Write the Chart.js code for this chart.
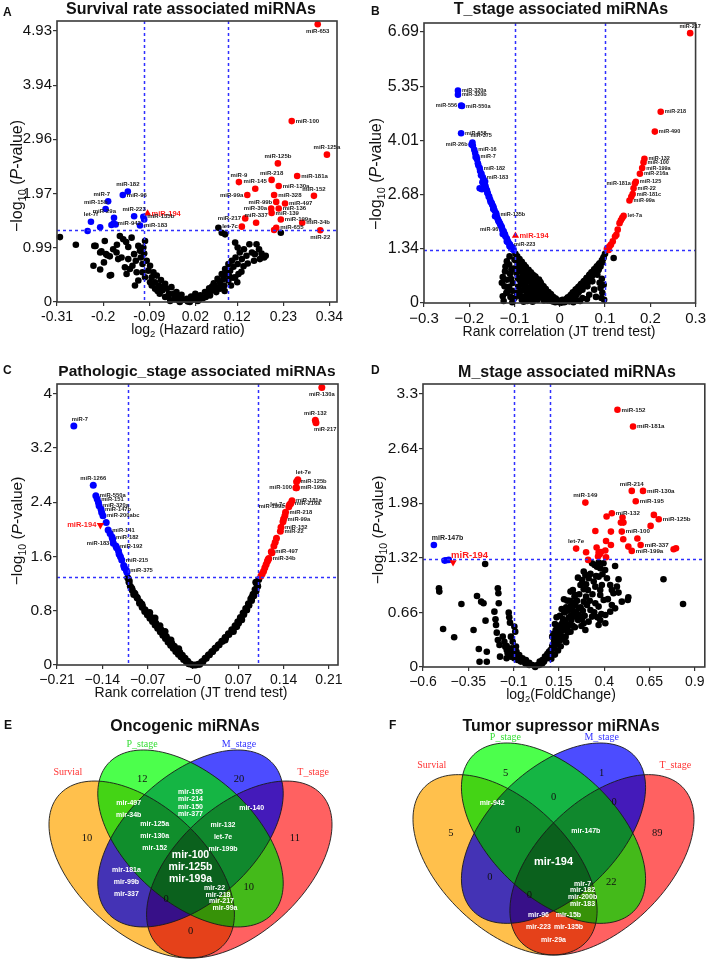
<!DOCTYPE html>
<html>
<head>
<meta charset="utf-8">
<script src="https://cdn.jsdelivr.net/npm/chart.js@4.4.1/dist/chart.umd.min.js"></script>
<style>
  body { margin: 0; background: #fff; }
  #wrap { position: relative; width: 709px; height: 962px; overflow: hidden; }
  canvas { position: absolute; }
  .tag { position: absolute; font: bold 12px "Liberation Sans", Arial, sans-serif; color: #111; }
</style>
</head>
<body>
<div id="wrap">
  <canvas id="cA" width="354" height="340" style="left:0;top:0"></canvas>
  <canvas id="cB" width="355" height="340" style="left:354px;top:0"></canvas>
  <canvas id="cC" width="354" height="360" style="left:0;top:345px"></canvas>
  <canvas id="cD" width="355" height="360" style="left:354px;top:345px"></canvas>
  <canvas id="cE" width="354" height="312" style="left:0;top:650px"></canvas>
  <canvas id="cF" width="355" height="312" style="left:354px;top:650px"></canvas>
  <div class="tag" style="left:3px;top:5px">A</div>
  <div class="tag" style="left:371px;top:4px">B</div>
  <div class="tag" style="left:3px;top:363px">C</div>
  <div class="tag" style="left:371px;top:363px">D</div>
  <div class="tag" style="left:4px;top:718px">E</div>
  <div class="tag" style="left:389px;top:718px">F</div>
</div>
<script>
const FONT = '"Liberation Sans", Arial, sans-serif';
const SERIF = '"Liberation Serif", "Times New Roman", serif';
Chart.defaults.font.family = FONT;

// ---------- A: survival rate ----------
const A_X_TICKS = ['-0.31', '-0.2', '-0.09', '0.02', '0.12', '0.23', '0.34'];
const A_Y_TICKS = ['0', '0.99', '1.97', '2.96', '3.94', '4.93'];
const A_RED_NAMES = ['miR-653', 'miR-100', 'miR-125a', 'miR-125b', 'miR-218', 'miR-181a', 'miR-9', 'miR-145',
  'miR-130a', 'miR-99a', 'miR-328', 'miR-152', 'miR-99b', 'miR-497', 'miR-30a', 'miR-136', 'miR-139', 'miR-217',
  'miR-337', 'miR-199a', 'miR-34b', 'let-7c', 'miR-655', '', 'miR-22'];
const A_RED = [[0.312, 5.05], [0.250, 3.29], [0.334, 2.68], [0.217, 2.52], [0.202, 2.22], [0.263, 2.29], [0.124, 2.18],
  [0.163, 2.06], [0.219, 2.11], [0.144, 1.945], [0.208, 1.945], [0.303, 1.93], [0.213, 1.82], [0.234, 1.79],
  [0.201, 1.70], [0.219, 1.70], [0.202, 1.62], [0.139, 1.52], [0.165, 1.44], [0.224, 1.50], [0.275, 1.44],
  [0.131, 1.37], [0.213, 1.35], [0.208, 1.31], [0.318, 1.305]];
const A_BLUE_NAMES = ['miR-182', 'miR-96', 'miR-7', 'miR-15b', 'miR-29a', 'miR-223', 'miR-942', '', '', 'let-7f',
  '', '', 'miR-135b', '', 'miR-183'];
const A_BLUE = [[-0.141, 2.01], [-0.153, 1.945], [-0.188, 1.83], [-0.194, 1.69], [-0.174, 1.53], [-0.126, 1.56],
  [-0.175, 1.43], [-0.180, 1.40], [-0.170, 1.41], [-0.229, 1.46], [-0.237, 1.29], [-0.207, 1.36], [-0.104, 1.55],
  [-0.102, 1.50], [-0.112, 1.39]];
const A_MIR194 = [[-0.094, 1.61]];
const A_BLACK = [[-0.303, 1.18], [-0.265, 1.04], [-0.218, 1.02], [-0.204, 0.92], [-0.196, 1.11], [-0.190, 0.85],
  [-0.181, 0.49], [-0.176, 0.96], [-0.168, 0.90], [-0.167, 1.04], [-0.164, 0.78], [-0.160, 1.20], [-0.156, 0.81],
  [-0.152, 1.14], [-0.148, 0.63], [-0.145, 1.09], [-0.144, 0.51], [-0.140, 1.00], [-0.140, 0.78], [-0.136, 0.60],
  [-0.132, 1.17], [-0.130, 0.66], [-0.126, 0.87], [-0.124, 0.30], [-0.122, 0.75], [-0.120, 0.54], [-0.116, 1.02],
  [-0.116, 0.39], [-0.112, 0.93], [-0.110, 0.81], [-0.106, 0.69], [-0.106, 0.54], [-0.104, 0.99], [-0.102, 0.88],
  [-0.100, 1.11], [-0.100, 0.45], [-0.096, 0.75], [-0.092, 0.57], [-0.088, 0.66], [-0.088, 0.36], [-0.084, 0.45],
  [-0.084, 0.30], [-0.080, 0.54], [-0.076, 0.36], [-0.076, 0.24], [-0.072, 0.48], [-0.070, 0.20], [-0.068, 0.30],
  [-0.065, 0.15], [-0.062, 0.40], [-0.060, 0.28], [-0.059, 0.21], [-0.052, 0.33], [-0.052, 0.09], [-0.048, 0.24],
  [-0.045, 0.10], [-0.043, 0.15], [-0.040, 0.02], [-0.037, 0.27], [-0.032, 0.15], [-0.030, 0.08], [-0.029, 0.05],
  [-0.025, 0.18], [-0.020, 0.03], [-0.019, 0.09], [-0.017, 0.0], [-0.013, 0.13], [-0.006, 0.04], [0.0, 0.06],
  [0.002, 0.01], [0.007, 0.0], [0.010, 0.10], [0.013, 0.04], [0.019, 0.07], [0.020, 0.15], [0.026, 0.02],
  [0.030, 0.05], [0.032, 0.12], [0.038, 0.07], [0.043, 0.18], [0.045, 0.09], [0.048, 0.15], [0.053, 0.25],
  [0.055, 0.12], [0.059, 0.21], [0.060, 0.28], [0.064, 0.34], [0.069, 0.27], [0.070, 0.18], [0.073, 0.42],
  [0.079, 0.36], [0.079, 0.24], [0.080, 0.30], [0.083, 0.51], [0.087, 0.42], [0.089, 0.30], [0.090, 0.20],
  [0.091, 0.60], [0.095, 0.51], [0.099, 0.69], [0.099, 0.39], [0.100, 0.48], [0.103, 0.57], [0.105, 0.30],
  [0.107, 0.75], [0.110, 0.44], [0.111, 0.64], [0.115, 0.45], [0.116, 0.81], [0.120, 0.36], [0.121, 0.69],
  [0.123, 0.51], [0.126, 0.90], [0.130, 0.55], [0.131, 0.78], [0.135, 0.65], [0.136, 0.96], [0.142, 0.84],
  [0.145, 0.70], [0.149, 1.05], [0.155, 0.90], [0.160, 0.75], [0.115, 1.08], [0.121, 0.99], [0.091, 1.23],
  [0.075, 1.35], [0.083, 1.26], [0.162, 0.87], [0.166, 1.05], [0.172, 0.96], [0.174, 0.78], [0.178, 0.88],
  [0.184, 0.81], [0.188, 0.84], [0.224, 1.26], [-0.221, 1.02], [-0.207, 0.90], [-0.193, 0.87], [-0.184, 0.83],
  [-0.223, 0.66], [-0.207, 0.59], [-0.198, 0.72], [-0.184, 0.48]];

// ---------- B: T stage ----------
const B_X_TICKS = ['−0.3', '−0.2', '−0.1', '0', '0.1', '0.2', '0.3'];
const B_Y_TICKS = ['0', '1.34', '2.68', '4.01', '5.35', '6.69'];
const B_RED_NAMES = ['miR-217', 'miR-218', 'miR-490', 'miR-132', 'miR-100', 'miR-199a', 'miR-216a', 'miR-125',
  'miR-181a', 'miR-22', 'miR-181c', '', 'miR-99a', 'let-7a'];
const B_RED = [[0.288, 6.66], [0.223, 4.72], [0.210, 4.23], [0.187, 3.56], [0.185, 3.47], [0.182, 3.33],
  [0.177, 3.19], [0.168, 2.99], [0.166, 2.95], [0.163, 2.83], [0.161, 2.69], [0.158, 2.62], [0.154, 2.53],
  [0.141, 2.15], [0.138, 2.10], [0.135, 2.04], [0.132, 1.97], [0.128, 1.81], [0.125, 1.68], [0.122, 1.64],
  [0.117, 1.52], [0.113, 1.44], [0.110, 1.40], [0.106, 1.36], [0.104, 1.33], [0.108, 1.31]];
const B_BLUE_NAMES = ['miR-320a', 'miR-320b', 'miR-556', 'miR-550a', 'miR-658', 'miR-375', 'miR-26b', '', 'miR-16',
  '', 'miR-7', '', '', 'miR-182', '', '', 'miR-183', '', '', '', '', '', '', '', '', '', '', '', '', '', '', '', '',
  '', 'miR-135b', '', '', '', '', '', '', 'miR-96', '', '', '', '', '', '', '', '', 'miR-223'];
const B_BLUE = [[-0.225, 5.24], [-0.225, 5.14], [-0.218, 4.87], [-0.216, 4.86], [-0.218, 4.19], [-0.193, 3.96],
  [-0.195, 3.91], [-0.192, 3.88], [-0.189, 3.78], [-0.187, 3.70], [-0.184, 3.61], [-0.183, 3.55], [-0.181, 3.45],
  [-0.177, 3.33], [-0.176, 3.26], [-0.173, 3.19], [-0.170, 3.10], [-0.168, 3.04], [-0.165, 3.00], [-0.166, 2.95],
  [-0.164, 2.88], [-0.177, 2.83], [-0.172, 2.81], [-0.161, 2.78], [-0.159, 2.70], [-0.157, 2.62], [-0.156, 2.63],
  [-0.154, 2.55], [-0.151, 2.48], [-0.149, 2.42], [-0.147, 2.32], [-0.146, 2.34], [-0.144, 2.28], [-0.143, 2.14],
  [-0.140, 2.18], [-0.139, 2.12], [-0.137, 2.07], [-0.136, 2.04], [-0.135, 2.01], [-0.132, 1.96], [-0.129, 1.89],
  [-0.127, 1.81], [-0.126, 1.70], [-0.124, 1.77], [-0.122, 1.71], [-0.120, 1.64], [-0.117, 1.59], [-0.117, 1.52],
  [-0.115, 1.53], [-0.113, 1.48], [-0.110, 1.44], [-0.111, 1.40], [-0.108, 1.37], [-0.105, 1.33], [-0.102, 1.31],
  [-0.186, 3.60], [-0.180, 3.40], [-0.174, 3.15], [-0.168, 2.92], [-0.160, 2.72], [-0.153, 2.50], [-0.147, 2.38],
  [-0.141, 2.22], [-0.134, 2.00], [-0.128, 1.86], [-0.121, 1.68], [-0.114, 1.50], [-0.106, 1.38], [-0.104, 1.34],
  [-0.171, 2.98], [-0.163, 2.82], [-0.150, 2.45], [-0.131, 1.92]];
const B_MIR194 = [[-0.098, 1.66]];
const B_BLACK = [[-0.098, 1.216], [-0.094, 1.150], [-0.089, 1.085], [-0.084, 1.019], [-0.079, 0.945], [-0.075, 0.887],
  [-0.069, 0.822], [-0.064, 0.756], [-0.058, 0.682], [-0.053, 0.616], [-0.047, 0.551], [-0.042, 0.485],
  [-0.036, 0.411], [-0.031, 0.345], [-0.025, 0.271], [-0.019, 0.197], [-0.013, 0.131], [-0.007, 0.066],
  [-0.001, 0.016], [0.006, 0.033], [0.012, 0.082], [0.018, 0.140], [0.024, 0.197], [0.029, 0.263], [0.035, 0.329],
  [0.041, 0.394], [0.047, 0.468], [0.053, 0.534], [0.059, 0.608], [0.065, 0.682], [0.070, 0.756], [0.076, 0.830],
  [0.082, 0.904], [0.088, 0.978], [0.093, 1.052], [0.097, 1.134], [0.100, 1.216], [-0.111, 1.150], [-0.117, 1.027],
  [-0.126, 0.641], [-0.117, 0.575], [-0.122, 0.411], [-0.126, 0.164], [-0.115, 0.288], [-0.107, 0.822],
  [-0.104, 0.493], [-0.096, 0.740], [-0.089, 0.575], [-0.082, 0.698], [-0.075, 0.534], [-0.078, 0.370],
  [-0.067, 0.329], [-0.060, 0.452], [-0.053, 0.247], [-0.045, 0.329], [-0.038, 0.164], [-0.031, 0.205],
  [-0.023, 0.082], [-0.089, 0.247], [-0.100, 0.123], [-0.075, 0.164], [-0.064, 0.123], [-0.049, 0.082],
  [-0.016, 0.041], [-0.089, 0.904], [-0.082, 0.822], [-0.071, 0.657], [-0.056, 0.575], [-0.042, 0.411],
  [-0.027, 0.247], [-0.100, 1.068], [-0.093, 0.945], [0.006, 0.082], [0.017, 0.123], [0.028, 0.181], [0.039, 0.247],
  [0.050, 0.329], [0.061, 0.411], [0.072, 0.534], [0.083, 0.698], [0.021, 0.041], [0.035, 0.082], [0.050, 0.123],
  [0.065, 0.205], [0.090, 0.370], [0.092, 0.123], [0.119, 1.109], [0.086, 0.822], [0.076, 0.329], [-0.095, 0.247],
  [-0.084, 0.082], [-0.010, 0.02], [0.0, 0.04], [0.010, 0.02], [-0.035, 0.06], [-0.060, 0.03], [0.045, 0.05],
  [0.030, 0.02], [-0.070, 0.20], [-0.050, 0.45], [-0.085, 0.45], [-0.110, 0.72], [-0.060, 0.60], [-0.120, 0.90],
  [-0.112, 0.40], [-0.105, 0.02], [-0.080, 0.03],
  [-0.097, 1.05], [-0.095, 0.85], [-0.093, 0.62], [-0.092, 0.40], [-0.091, 0.18], [-0.090, 1.00], [-0.087, 0.78],
  [-0.086, 0.52], [-0.085, 0.30], [-0.083, 0.95], [-0.081, 0.60], [-0.080, 0.15], [-0.078, 0.85], [-0.077, 0.48],
  [-0.074, 0.72], [-0.073, 0.26], [-0.072, 0.05], [-0.070, 0.80], [-0.069, 0.55], [-0.068, 0.38], [-0.066, 0.68],
  [-0.065, 0.20], [-0.063, 0.47], [-0.062, 0.72], [-0.061, 0.30], [-0.058, 0.58], [-0.057, 0.12], [-0.056, 0.40],
  [-0.054, 0.65], [-0.052, 0.50], [-0.050, 0.22], [-0.049, 0.35], [-0.047, 0.45], [-0.046, 0.58], [-0.044, 0.15],
  [-0.043, 0.52], [-0.041, 0.30], [-0.040, 0.44], [-0.038, 0.40], [-0.036, 0.25], [-0.034, 0.36], [-0.033, 0.10],
  [-0.031, 0.30], [-0.029, 0.18], [-0.028, 0.28], [-0.026, 0.06], [-0.024, 0.20], [-0.022, 0.14], [-0.020, 0.22],
  [-0.018, 0.05], [-0.015, 0.15], [-0.012, 0.08], [-0.009, 0.11], [-0.005, 0.03], [-0.003, 0.06],
  [-0.108, 0.60], [-0.112, 0.95], [-0.118, 0.25], [-0.121, 0.78], [-0.124, 0.05], [-0.128, 0.50], [-0.105, 0.30],
  [-0.103, 0.85], [-0.109, 0.15],
  [0.004, 0.01], [0.008, 0.05], [0.012, 0.03], [0.015, 0.10], [0.018, 0.06], [0.022, 0.15], [0.025, 0.08],
  [0.027, 0.22], [0.031, 0.16], [0.033, 0.28], [0.036, 0.20], [0.038, 0.35], [0.042, 0.27], [0.044, 0.42],
  [0.046, 0.33], [0.049, 0.48], [0.052, 0.40], [0.055, 0.55], [0.057, 0.45], [0.060, 0.62], [0.063, 0.52],
  [0.066, 0.70], [0.068, 0.60], [0.071, 0.66], [0.074, 0.78], [0.078, 0.72], [0.080, 0.86], [0.084, 0.80],
  [0.086, 0.95], [0.090, 0.90], [0.094, 1.00], [0.096, 1.10], [0.098, 0.08], [0.094, 0.25], [0.080, 0.15],
  [0.060, 0.10], [0.040, 0.06], [0.097, 0.45], [0.093, 0.60], [0.088, 0.50]];

// ---------- C: pathologic stage ----------
const C_X_TICKS = ['−0.21', '−0.14', '−0.07', '−0', '0.07', '0.14', '0.21'];
const C_Y_TICKS = ['0', '0.8', '1.6', '2.4', '3.2', '4'];
const C_RED_NAMES = ['miR-130a', 'miR-132', 'miR-217', 'let-7e', 'miR-125b', 'miR-100', 'miR-199a', 'miR-181a',
  'miR-216a', 'let-7c', 'miR-199b', 'miR-218', '', 'miR-99a', '', 'miR-152', 'miR-22', '', '', '', 'miR-497', '',
  'miR-34b'];
const C_RED = [[0.199, 4.09], [0.189, 3.605], [0.190, 3.57], [0.162, 2.73], [0.160, 2.70], [0.159, 2.61],
  [0.160, 2.61], [0.153, 2.42], [0.151, 2.38], [0.149, 2.36], [0.148, 2.33], [0.143, 2.25], [0.142, 2.20],
  [0.140, 2.15], [0.139, 2.11], [0.136, 2.03], [0.135, 1.97], [0.129, 1.867], [0.127, 1.81], [0.125, 1.753],
  [0.121, 1.67], [0.122, 1.654], [0.117, 1.57], [0.116, 1.55], [0.115, 1.53], [0.113, 1.48], [0.111, 1.432],
  [0.109, 1.383], [0.107, 1.343], [0.105, 1.31]];
const C_BLUE_NAMES = ['miR-7', 'miR-1266', 'miR-550a', 'miR-151', '', 'miR-320a', 'miR-147b', '', 'miR-200abc', '',
  'miR-141', '', 'miR-182', '', 'miR-183', 'miR-192', '', '', '', '', 'miR-215', '', '', 'miR-375'];
const C_BLUE = [[-0.184, 3.52], [-0.154, 2.65], [-0.150, 2.494], [-0.148, 2.444], [-0.146, 2.395], [-0.145, 2.346],
  [-0.142, 2.296], [-0.141, 2.247], [-0.139, 2.198], [-0.134, 2.099], [-0.131, 1.99], [-0.128, 1.936],
  [-0.125, 1.887], [-0.124, 1.852], [-0.123, 1.793], [-0.119, 1.753], [-0.118, 1.729], [-0.115, 1.679],
  [-0.114, 1.63], [-0.112, 1.595], [-0.110, 1.546], [-0.107, 1.467], [-0.106, 1.432], [-0.103, 1.398],
  [-0.102, 1.368]];
const C_MIR194 = [[-0.143, 2.06]];
const C_BLACK = [[-0.1008, 1.284], [-0.0988, 1.22], [-0.0967, 1.16], [-0.0937, 1.101], [-0.0895, 1.047],
  [-0.086, 0.988], [-0.0822, 0.933], [-0.0782, 0.874], [-0.074, 0.815], [-0.0699, 0.766], [-0.0658, 0.716],
  [-0.0617, 0.667], [-0.0575, 0.618], [-0.0535, 0.567], [-0.0493, 0.519], [-0.0452, 0.47], [-0.0411, 0.419],
  [-0.037, 0.37], [-0.0328, 0.321], [-0.0288, 0.277], [-0.0246, 0.233], [-0.0204, 0.188], [-0.0164, 0.144],
  [-0.0122, 0.099], [-0.0081, 0.055], [-0.0041, 0.015], [0.0, 0.0], [-0.0915, 1.037], [-0.0668, 0.775],
  [-0.0431, 0.493], [-0.0586, 0.692], [-0.079, 0.90], [-0.051, 0.58], [-0.034, 0.37], [-0.022, 0.24],
  [0.0083, 0.01], [0.0136, 0.049], [0.0187, 0.099], [0.0238, 0.148], [0.029, 0.197], [0.0341, 0.247],
  [0.0392, 0.296], [0.0445, 0.351], [0.0496, 0.405], [0.0547, 0.459], [0.0599, 0.519], [0.065, 0.578],
  [0.0692, 0.637], [0.0732, 0.701], [0.0774, 0.766], [0.0815, 0.834], [0.0856, 0.904], [0.0893, 0.973],
  [0.0928, 1.041], [0.0959, 1.111], [0.099, 1.185], [0.1016, 1.259], [0.0624, 0.493], [0.0753, 0.667],
  [0.0831, 0.815], [0.0496, 0.37], [0.0676, 0.567], [0.004, 0.0], [0.091, 1.0], [0.097, 1.22],
  [-0.0985, 1.24], [-0.0945, 1.13], [-0.0905, 1.06], [-0.0865, 1.00], [-0.0825, 0.91], [-0.0785, 0.85],
  [-0.0745, 0.79], [-0.0705, 0.74], [-0.0665, 0.69], [-0.0625, 0.64], [-0.0585, 0.59], [-0.0545, 0.54],
  [-0.0505, 0.49], [-0.0465, 0.44], [-0.0425, 0.39], [-0.0385, 0.34], [-0.0345, 0.29], [-0.0305, 0.245],
  [-0.0265, 0.20], [-0.0225, 0.16], [-0.0185, 0.12], [-0.0145, 0.08], [-0.0105, 0.05], [-0.0065, 0.02],
  [0.0105, 0.01], [0.0155, 0.05], [0.0205, 0.10], [0.0255, 0.15], [0.0305, 0.20], [0.0355, 0.25], [0.0405, 0.30],
  [0.0455, 0.35], [0.0505, 0.40], [0.0555, 0.45], [0.0605, 0.50], [0.0655, 0.56], [0.0705, 0.62], [0.0745, 0.68],
  [0.0785, 0.745], [0.0825, 0.81], [0.0865, 0.88], [0.0905, 0.95], [0.0940, 1.02], [0.0975, 1.09], [0.1000, 1.16]];

// ---------- D: M stage ----------
const D_X_TICKS = ['−0.6', '−0.35', '−0.1', '0.15', '0.4', '0.65', '0.9'];
const D_Y_TICKS = ['0', '0.66', '1.32', '1.98', '2.64', '3.3'];
const D_RED_NAMES = ['miR-152', 'miR-181a', 'miR-214', 'miR-130a', 'miR-195', 'miR-149', 'miR-132', '', '', '',
  'miR-125b', '', '', '', '', '', 'miR-100', '', '', '', '', 'miR-337', 'let-7e', '', '', '', '', '', '', '',
  'miR-199a'];
const D_RED = [[0.473, 3.108], [0.559, 2.906], [0.552, 2.128], [0.614, 2.128], [0.574, 2.003], [0.296, 1.987],
  [0.442, 1.858], [0.413, 1.818], [0.501, 1.806], [0.674, 1.838], [0.701, 1.785], [0.492, 1.745], [0.506, 1.745],
  [0.656, 1.705], [0.351, 1.644], [0.437, 1.636], [0.497, 1.636], [0.583, 1.552], [0.505, 1.544], [0.410, 1.523],
  [0.437, 1.475], [0.601, 1.475], [0.245, 1.431], [0.358, 1.443], [0.533, 1.455], [0.300, 1.386], [0.369, 1.382],
  [0.376, 1.362], [0.382, 1.390], [0.406, 1.407], [0.552, 1.403], [0.783, 1.423], [0.796, 1.435], [0.366, 1.334],
  [0.410, 1.326], [0.311, 1.294]];
const D_BLUE_NAMES = ['miR-147b'];
const D_BLUE = [[-0.540, 1.475], [-0.481, 1.286], [-0.472, 1.290], [-0.458, 1.294]];
const D_MIR194 = [[-0.434, 1.266]];
const D_BLACK = [[-0.257, 1.245], [-0.512, 0.951], [-0.510, 0.911], [-0.388, 0.762], [-0.489, 0.459],
  [-0.428, 0.359], [-0.302, 0.858], [-0.279, 0.790], [-0.266, 0.770], [-0.187, 0.951], [-0.184, 0.891],
  [-0.182, 0.770], [-0.321, 0.447], [-0.292, 0.218], [-0.248, 0.185], [-0.255, 0.560], [-0.206, 0.669],
  [-0.200, 0.577], [-0.197, 0.508], [-0.193, 0.415], [-0.187, 0.327], [-0.178, 0.266], [-0.127, 0.657],
  [-0.124, 0.600], [-0.120, 0.536], [-0.160, 0.367], [-0.151, 0.306], [-0.138, 0.254], [-0.115, 0.367],
  [-0.105, 0.306], [-0.096, 0.488], [-0.091, 0.427], [-0.087, 0.246], [-0.084, 0.185], [-0.133, 0.165],
  [-0.115, 0.125], [-0.096, 0.105], [-0.069, 0.145], [-0.051, 0.105], [-0.032, 0.085], [-0.014, 0.052],
  [0.004, 0.024], [0.019, 0.0], [0.031, 0.024], [0.044, 0.065], [0.059, 0.085], [0.073, 0.125], [0.086, 0.157],
  [0.095, 0.185], [0.104, 0.206], [0.113, 0.254], [0.123, 0.306], [0.132, 0.347], [0.141, 0.387], [0.150, 0.427],
  [0.113, 0.367], [0.132, 0.447], [0.150, 0.488], [0.168, 0.528], [0.187, 0.548], [0.205, 0.600], [0.159, 0.327],
  [0.187, 0.367], [0.214, 0.427], [0.238, 0.480], [0.178, 0.818], [0.196, 0.802], [0.214, 0.911], [0.227, 0.931],
  [0.241, 0.871], [0.223, 0.689], [0.241, 0.657], [0.260, 0.629], [0.278, 0.589], [0.287, 0.528], [0.256, 0.568],
  [0.274, 0.496], [0.296, 0.447], [0.314, 0.548], [0.333, 0.609], [0.269, 0.991], [0.287, 0.939], [0.278, 1.052],
  [0.287, 1.153], [0.296, 1.113], [0.314, 1.072], [0.324, 1.125], [0.333, 1.254], [0.347, 1.233], [0.360, 1.213],
  [0.369, 1.262], [0.378, 1.193], [0.342, 1.032], [0.351, 0.971], [0.369, 1.092], [0.378, 0.931], [0.387, 0.991],
  [0.396, 1.254], [0.405, 1.173], [0.415, 1.072], [0.433, 0.991], [0.460, 1.221], [0.479, 1.060], [0.442, 0.931],
  [0.451, 0.891], [0.479, 0.899], [0.351, 0.770], [0.369, 0.730], [0.384, 0.641], [0.397, 0.810], [0.369, 0.508],
  [0.406, 0.528], [0.324, 0.689], [0.305, 0.750], [0.287, 0.790], [0.533, 0.842], [0.530, 0.810], [0.497, 0.790],
  [0.470, 0.971], [0.378, 0.871], [0.727, 1.060], [0.835, 0.762], [0.433, 0.669], [0.406, 0.629], [0.378, 0.568],
  [0.442, 0.750], [0.460, 0.709], [-0.014, 0.024], [-0.036, 0.044], [-0.060, 0.065], [-0.078, 0.085],
  [-0.087, 0.125], [-0.102, 0.173], [-0.111, 0.226], [-0.124, 0.206], [-0.138, 0.206], [-0.146, 0.246],
  [0.041, 0.024], [0.059, 0.044], [0.068, 0.065], [0.086, 0.105], [0.099, 0.145], [0.110, 0.173], [0.117, 0.226],
  [0.132, 0.266], [0.141, 0.306], [0.159, 0.387], [0.168, 0.439], [0.183, 0.480], [0.196, 0.447], [0.205, 0.508],
  [0.219, 0.568], [0.232, 0.609], [0.245, 0.669], [0.260, 0.709], [0.241, 0.750], [0.214, 0.730],
  [-0.288, 0.064], [-0.248, 0.064], [-0.175, 0.125], [-0.139, 0.105],
  [0.120, 0.40], [0.128, 0.52], [0.137, 0.60], [0.145, 0.50], [0.155, 0.62], [0.165, 0.70], [0.172, 0.58],
  [0.180, 0.66], [0.190, 0.72], [0.200, 0.68], [0.210, 0.80], [0.218, 0.62], [0.228, 0.78], [0.236, 0.85],
  [0.250, 0.80], [0.262, 0.88], [0.270, 0.72], [0.282, 0.68], [0.292, 0.62], [0.300, 0.85], [0.310, 0.93],
  [0.320, 0.80], [0.335, 0.88], [0.345, 0.66], [0.355, 1.10], [0.362, 0.60], [0.300, 1.00], [0.255, 1.08],
  [0.390, 1.12], [0.420, 0.82], [0.160, 0.25], [0.175, 0.35], [0.190, 0.30], [0.200, 0.42], [0.225, 0.50],
  [0.145, 0.20], [0.128, 0.15], [0.108, 0.10]];

// ---------- E / F: Venn diagrams ----------
const VENN_SETS = ['Survial', 'P_stage', 'M_stage', 'T_stage'];
const VENN_REGIONS = ['S', 'P', 'M', 'T', 'SP', 'PM', 'MT', 'SM', 'PT', 'ST', 'SPM', 'PMT', 'SMT', 'SPT', 'SPMT'];
const ONCO_CONTENT = [10, 12, 20, 11, ['mir-497', 'mir-34b'], ['mir-195', 'mir-214', 'mir-150', 'mir-377'],
  ['mir-140'], ['mir-181a', 'mir-99b', 'mir-337'], 10, 0, ['mir-125a', 'mir-130a', 'mir-152'],
  ['mir-132', 'let-7e', 'mir-199b'], 0, ['mir-22', 'mir-218', 'mir-217', 'mir-99a'],
  ['mir-100', 'mir-125b', 'mir-199a']];
const SUPP_CONTENT = [5, 5, 1, 89, ['mir-942'], 0, 0, 0, 22,
  ['mir-96', 'mir-15b', 'mir-223', 'mir-135b', 'mir-29a'], 0, ['mir-147b'], 0,
  ['mir-7', 'mir-182', 'mir-200b', 'mir-183'], ['mir-194']];

// layout of the 4-ellipse venn (unit square, y up)
const VENN_GEOM = [[0.35, 0.47, 135], [0.5, 0.57, 135], [0.5, 0.57, 45], [0.65, 0.47, 45]];
const VENN_AX = 0.35, VENN_BX = 0.2;
const VENN_FILL = ['rgba(255,165,0,0.7)', 'rgba(0,255,0,0.7)', 'rgba(0,0,255,0.7)', 'rgba(255,0,0,0.62)'];
const VENN_ORDER = [0, 3, 2, 1];
const VENN_CAT_POS = [[0.123, 0.784], [0.351, 0.874], [0.649, 0.874], [0.877, 0.784]];
const VENN_CAT_COL = ['#ff3333', '#33dd33', '#3333ff', '#ff3333'];
const VENN_ANCHOR = [[0.182, 0.571], [0.352, 0.760], [0.649, 0.760], [0.821, 0.571], [0.310, 0.665],
  [0.5, 0.684], [0.688, 0.668], [0.303, 0.430], [0.679, 0.414], [0.5, 0.272], [0.390, 0.578], [0.600, 0.576],
  [0.425, 0.374], [0.590, 0.378], [0.5, 0.478]];
const VENN_LH = [0, 0, 0, 0, 12, 7.3, 12, 12, 0, 12.5, 12, 12, 0, 6.8, 12];

// ---------- drawing helpers ----------
function rich(ctx, segs, cx, cy, size, rotate) {
  ctx.save();
  ctx.translate(cx, cy);
  if (rotate) ctx.rotate(-Math.PI / 2);
  const parts = segs.map(s => {
    const sub = s[0] === '_', it = s[0] === '*';
    return { t: sub || it ? s.slice(1) : s, sub, it, fs: sub ? size * 0.68 : size };
  });
  const font = p => (p.it ? 'italic ' : '') + p.fs + 'px ' + FONT;
  let w = 0;
  parts.forEach(p => { ctx.font = font(p); p.w = ctx.measureText(p.t).width; w += p.w; });
  let x0 = -w / 2;
  ctx.textAlign = 'left';
  ctx.textBaseline = 'middle';
  ctx.fillStyle = '#111';
  parts.forEach(p => { ctx.font = font(p); ctx.fillText(p.t, x0, p.sub ? size * 0.33 : 0); x0 += p.w; });
  ctx.restore();
}

function placeLabel(ctx, txt, px, py, code) {
  let dx = 4, dy = 0, al = 'left';
  if (code === 'l') { dx = -4; al = 'right'; }
  else if (code === 't') { dx = 0; dy = -7; al = 'center'; }
  else if (code === 'b') { dx = 0; dy = 7; al = 'center'; }
  else if (code === 'tr') { dx = -2; dy = -7; }
  else if (code === 'tl') { dx = 2; dy = -7; al = 'right'; }
  else if (code === 'br') { dx = -2; dy = 7; }
  ctx.textAlign = al;
  ctx.textBaseline = 'middle';
  ctx.fillText(txt, px + dx, py + dy);
}

const deco = {
  id: 'deco',
  afterDatasetsDraw(chart, args, o) {
    const { ctx, chartArea: a, scales: { x, y } } = chart;
    ctx.save();
    // threshold lines
    ctx.strokeStyle = '#2f2fff';
    ctx.lineWidth = 1.5;
    ctx.setLineDash([3, 3]);
    ctx.beginPath();
    o.vLines.forEach(v => {
      const px = Math.round(x.getPixelForValue(v)) + 0.5;
      ctx.moveTo(px, a.top); ctx.lineTo(px, a.bottom);
    });
    const py = Math.round(y.getPixelForValue(o.hLine)) + 0.5;
    ctx.moveTo(a.left, py); ctx.lineTo(a.right, py);
    ctx.stroke();
    ctx.setLineDash([]);
    // frame
    ctx.strokeStyle = '#3a3a3a';
    ctx.lineWidth = 1.6;
    ctx.strokeRect(a.left, a.top, a.right - a.left, a.bottom - a.top);
    // point labels
    chart.data.datasets.forEach((d, i) => {
      if (!d.names) return;
      const meta = chart.getDatasetMeta(i);
      ctx.fillStyle = d.labelColor || '#222';
      ctx.font = 'bold ' + (d.labelSize || o.labelSize) + 'px ' + FONT;
      d.names.forEach((n, j) => {
        if (n) placeLabel(ctx, n, meta.data[j].x, meta.data[j].y, o.place[n] || 'r');
      });
    });
    // titles
    ctx.fillStyle = '#111';
    ctx.textAlign = 'center';
    ctx.textBaseline = 'middle';
    ctx.font = 'bold ' + o.titleSize + 'px ' + FONT;
    ctx.fillText(o.title, o.titleX, o.titleY);
    rich(ctx, o.xTitle, o.xTitleX, o.xTitleY, o.xTitleSize, false);
    rich(ctx, o.yTitle, o.yTitleX, o.yTitleY, o.yTitleSize, true);
    ctx.restore();
  }
};

const num = s => parseFloat(s.replace('−', '-'));

function volcano(id, p) {
  const pts = arr => arr.map(([x, y]) => ({ x, y }));
  const base = { pointBorderWidth: 0, pointRadius: p.r, clip: false };
  const axis = (ticks, min, max, size, fit, pad) => ({
    type: 'linear', min, max,
    afterBuildTicks: ax => { ax.ticks = ticks.map(t => ({ value: num(t) })); },
    afterFit: fit,
    ticks: { callback: (v, i) => ticks[i], autoSkip: false, maxRotation: 0, color: '#111', padding: pad,
      font: { size } },
    grid: { drawOnChartArea: false, drawTicks: true, tickLength: 4, color: '#333', lineWidth: 1.2 },
    border: { display: false }
  });
  return new Chart(document.getElementById(id), {
    type: 'scatter',
    data: {
      datasets: [
        Object.assign({ data: pts(p.mir194), names: ['miR-194'], backgroundColor: '#ff0000', order: 1,
          pointStyle: 'triangle', pointRotation: p.triDown ? 180 : 0, labelColor: '#ff1a1a',
          labelSize: p.size194 }, base, { pointRadius: 4.2 }),
        Object.assign({ data: pts(p.red), names: p.redNames, backgroundColor: '#ff0000', order: 2 }, base),
        Object.assign({ data: pts(p.blue), names: p.blueNames, backgroundColor: '#0000ff', order: 3,
          labelSize: p.blueSize }, base),
        Object.assign({ data: pts(p.black), backgroundColor: '#000000', order: 4 }, base)
      ]
    },
    options: {
      responsive: false, animation: false, events: [],
      layout: { padding: p.pad },
      plugins: { legend: { display: false }, tooltip: { enabled: false }, deco: p.deco },
      scales: {
        x: axis(p.xTicks, p.xMin, p.xMax, p.xSize, s => { s.height = p.xH; }, 3),
        y: axis(p.yTicks, 0, p.yMax, p.ySize, s => { s.width = p.yW; }, 1)
      }
    },
    plugins: [deco]
  });
}

const Y_TITLE = ['−log', '_10', ' (', '*P', '-value)'];

volcano('cA', {
  xTicks: A_X_TICKS, yTicks: A_Y_TICKS, xMin: -0.31, xMax: 0.358, yMax: 5.11,
  red: A_RED, redNames: A_RED_NAMES, blue: A_BLUE, blueNames: A_BLUE_NAMES, mir194: A_MIR194, black: A_BLACK,
  r: 3.3, size194: 7.5, blueSize: 6, triDown: false, xSize: 14, ySize: 15,
  pad: { left: 0, top: 21, right: 17, bottom: 0 }, yW: 57, xH: 38,
  deco: {
    vLines: [-0.103, 0.097], hLine: 1.301, labelSize: 6,
    title: 'Survival rate associated miRNAs', titleSize: 16, titleX: 191, titleY: 10,
    xTitle: ['log', '_2', ' (Hazard ratio)'], xTitleX: 188, xTitleY: 330, xTitleSize: 14,
    yTitle: Y_TITLE, yTitleX: 18, yTitleY: 176, yTitleSize: 16,
    place: { 'miR-653': 'b', 'miR-125a': 't', 'miR-125b': 't', 'miR-218': 't', 'miR-9': 't', 'miR-145': 't',
      'miR-99a': 'l', 'miR-152': 't', 'miR-99b': 'l', 'miR-30a': 'l', 'miR-217': 'l', 'miR-337': 't',
      'let-7c': 'l', 'miR-22': 'b', 'miR-182': 't', 'miR-7': 'tl', 'miR-15b': 'tl', 'miR-29a': 'tl',
      'miR-223': 't', 'let-7f': 't' }
  }
});

volcano('cB', {
  xTicks: B_X_TICKS, yTicks: B_Y_TICKS, xMin: -0.3, xMax: 0.3, yMax: 6.91,
  red: B_RED, redNames: B_RED_NAMES, blue: B_BLUE, blueNames: B_BLUE_NAMES, mir194: B_MIR194, black: B_BLACK,
  r: 3.3, size194: 7.5, blueSize: 5.5, triDown: false, xSize: 15, ySize: 16,
  pad: { left: 0, top: 23, right: 12, bottom: 0 }, yW: 70, xH: 37,
  deco: {
    vLines: [-0.1, 0.1], hLine: 1.301, labelSize: 5.5,
    title: 'T_stage associated miRNAs', titleSize: 16, titleX: 207, titleY: 10,
    xTitle: ['Rank correlation (JT trend test)'], xTitleX: 205, xTitleY: 332, xTitleSize: 14,
    yTitle: Y_TITLE, yTitleX: 23, yTitleY: 174, yTitleSize: 16,
    place: { 'miR-217': 't', 'miR-181a': 'l', 'miR-556': 'l', 'miR-26b': 'l', 'miR-96': 'l', 'miR-375': 'tr' }
  }
});

volcano('cC', {
  xTicks: C_X_TICKS, yTicks: C_Y_TICKS, xMin: -0.21, xMax: 0.224, yMax: 4.14,
  red: C_RED, redNames: C_RED_NAMES, blue: C_BLUE, blueNames: C_BLUE_NAMES, mir194: C_MIR194, black: C_BLACK,
  r: 3.5, size194: 7.5, blueSize: 5.8, triDown: true, xSize: 14, ySize: 15.5,
  pad: { left: 0, top: 39, right: 16, bottom: 0 }, yW: 57, xH: 40,
  deco: {
    vLines: [-0.1, 0.1], hLine: 1.301, labelSize: 5.8,
    title: 'Pathologic_stage associated miRNAs', titleSize: 15.5, titleX: 197, titleY: 27,
    xTitle: ['Rank correlation (JT trend test)'], xTitleX: 191, xTitleY: 348, xTitleSize: 14,
    yTitle: Y_TITLE, yTitleX: 18, yTitleY: 186, yTitleSize: 15.5,
    place: { 'miR-130a': 'b', 'miR-132': 't', 'miR-217': 'br', 'let-7e': 'tr', 'miR-100': 'l', 'let-7c': 'l',
      'miR-199b': 'l', 'miR-7': 'tr', 'miR-1266': 't', 'miR-183': 'l', 'miR-194': 'l' }
  }
});

volcano('cD', {
  xTicks: D_X_TICKS, yTicks: D_Y_TICKS, xMin: -0.6, xMax: 0.955, yMax: 3.42,
  red: D_RED, redNames: D_RED_NAMES, blue: D_BLUE, blueNames: D_BLUE_NAMES, mir194: D_MIR194, black: D_BLACK,
  r: 3.3, size194: 9.5, blueSize: 7, triDown: true, xSize: 14, ySize: 15.5,
  pad: { left: 0, top: 39, right: 2, bottom: 0 }, yW: 69, xH: 38,
  deco: {
    vLines: [-0.1, 0.1], hLine: 1.301, labelSize: 6.2,
    title: 'M_stage associated miRNAs', titleSize: 16, titleX: 213, titleY: 28,
    xTitle: ['log', '_2', '(FoldChange)'], xTitleX: 207, xTitleY: 350, xTitleSize: 14,
    yTitle: Y_TITLE, yTitleX: 25, yTitleY: 185, yTitleSize: 15.5,
    place: { 'miR-214': 't', 'miR-149': 't', 'let-7e': 't', 'miR-147b': 'tr', 'miR-194': 'tr' }
  }
});

// ---------- venn ----------
const vennPlugin = {
  id: 'venn',
  afterDatasetsDraw(chart, args, o) {
    const { ctx, scales: { x, y } } = chart;
    const P = (u, v) => [x.getPixelForValue(u), y.getPixelForValue(v)];
    const path = i => {
      const [cu, cv, deg] = VENN_GEOM[i];
      const th = deg * Math.PI / 180;
      ctx.beginPath();
      for (let k = 0; k <= 144; k++) {
        const t = k / 144 * 2 * Math.PI;
        const du = VENN_AX * Math.cos(t) * Math.cos(th) - VENN_BX * Math.sin(t) * Math.sin(th);
        const dv = VENN_AX * Math.cos(t) * Math.sin(th) + VENN_BX * Math.sin(t) * Math.cos(th);
        const [px, py] = P(cu + du, cv + dv);
        if (k) ctx.lineTo(px, py); else ctx.moveTo(px, py);
      }
      ctx.closePath();
    };
    ctx.save();
    VENN_ORDER.forEach(i => { path(i); ctx.fillStyle = VENN_FILL[i]; ctx.fill(); });
    // overlaps get a little darker, like the reference
    for (let i = 0; i < 4; i++) {
      for (let j = i + 1; j < 4; j++) {
        ctx.save();
        path(i); ctx.clip();
        path(j); ctx.fillStyle = 'rgba(0,0,0,0.1)'; ctx.fill();
        ctx.restore();
      }
    }
    ctx.strokeStyle = '#1a1a1a';
    ctx.lineWidth = 0.9;
    [0, 1, 2, 3].forEach(i => { path(i); ctx.stroke(); });

    ctx.textAlign = 'center';
    ctx.textBaseline = 'middle';
    // set names
    ctx.font = '10px ' + SERIF;
    VENN_SETS.forEach((s, i) => {
      const [px, py] = P(...VENN_CAT_POS[i]);
      ctx.fillStyle = VENN_CAT_COL[i];
      ctx.fillText(s, px, py);
    });
    // region contents
    VENN_REGIONS.forEach((r, i) => {
      const c = o.content[i];
      const [px, py] = P(...VENN_ANCHOR[i]);
      if (typeof c === 'number') {
        ctx.font = '10.5px ' + SERIF;
        ctx.fillStyle = '#111';
        ctx.fillText(String(c), px, py);
        return;
      }
      const big = r === 'SPMT';
      const fs = big ? o.bigSize : 7;
      const lh = VENN_LH[i];
      ctx.font = 'bold ' + fs + 'px ' + FONT;
      ctx.fillStyle = '#ffffff';
      if (c.length > 4) {
        const rows = [];
        for (let k = 0; k < c.length; k += 2) rows.push(c.slice(k, k + 2));
        rows.forEach((row, k) => {
          const off = k - (rows.length - 1) / 2;
          if (row.length === 1) ctx.fillText(row[0], px, py + off * lh);
          else { ctx.fillText(row[0], px - 15, py + off * lh); ctx.fillText(row[1], px + 15, py + off * lh); }
        });
      } else {
        c.forEach((t, k) => {
          const off = k - (c.length - 1) / 2;
          const sx = r === 'SPT' ? o.stagger * off : 0;
          ctx.fillText(t, px + sx, py + off * (big ? fs * 1.15 : lh));
        });
      }
    });
    // title
    ctx.font = 'bold 16px ' + FONT;
    ctx.fillStyle = '#111';
    ctx.fillText(o.title, o.titleX, o.titleY);
    ctx.restore();
  }
};

function venn(id, content, o) {
  return new Chart(document.getElementById(id), {
    type: 'scatter',
    data: { datasets: [{ data: [] }] },
    options: {
      responsive: false, animation: false, events: [],
      layout: { padding: o.pad },
      scales: {
        x: { display: false, min: 0.065, max: 0.935 },
        y: { display: false, min: 0.185, max: 0.855 }
      },
      plugins: { legend: { display: false }, tooltip: { enabled: false }, venn: Object.assign({ content }, o) }
    },
    plugins: [vennPlugin]
  });
}

venn('cE', ONCO_CONTENT, {
  pad: { left: 49, right: 22, top: 100, bottom: 4 }, title: 'Oncogenic miRNAs', titleX: 185, titleY: 77,
  bigSize: 10.5, stagger: 3.5
});
venn('cF', SUPP_CONTENT, {
  pad: { left: 59, right: 15, top: 93, bottom: 7 }, title: 'Tumor supressor miRNAs', titleX: 207, titleY: 77,
  bigSize: 11, stagger: 0
});
</script>
</body>
</html>
